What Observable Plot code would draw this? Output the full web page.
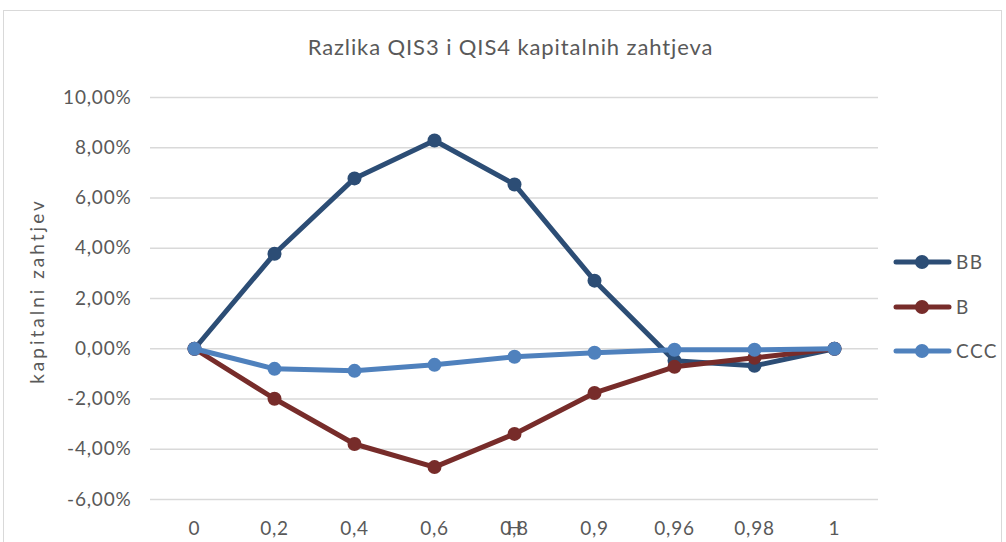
<!DOCTYPE html>
<html>
<head>
<meta charset="utf-8">
<script src="https://cdn.jsdelivr.net/npm/d3@7"></script>
<script src="https://cdn.jsdelivr.net/npm/@observablehq/plot@0.6"></script>
<style>
  html, body { margin: 0; padding: 0; background: #fff; }
  #wrap { position: relative; width: 1006px; height: 542px; overflow: hidden; font-family: Lato, "Open Sans", sans-serif; }
  #border { position: absolute; left: 3px; top: 10px; width: 999px; height: 560px; border: 1px solid #d9d9d9; box-sizing: border-box; }
  #title { position: absolute; left: 0; width: 1021px; top: 34px; line-height: 26px; text-align: center; font-size: 22px; letter-spacing: 0.9px; color: #595959; white-space: nowrap; }
  #ylabel { position: absolute; left: 36px; top: 291px; transform: translate(-50%, -50%) rotate(-90deg); font-size: 19px; letter-spacing: 3px; color: #595959; white-space: nowrap; }
  #chart { position: absolute; left: 0; top: 0; }
  #chart svg text { letter-spacing: 0.8px; }
  #legend { position: absolute; left: 0; top: 0; }
  #legend text { letter-spacing: 1.5px; }
</style>
</head>
<body>
<div id="wrap">
  <div id="border"></div>
  <div id="chart"></div>
  <div id="title">Razlika QIS3 i QIS4 kapitalnih zahtjeva</div>
  <div id="ylabel">kapitalni zahtjev</div>
  <svg id="legend" width="1006" height="542"></svg>
</div>
<script>
const categories = ["0", "0,2", "0,4", "0,6", "0,8", "0,9", "0,96", "0,98", "1"];
const seriesNames = ["BB", "B", "CCC"];
const seriesColors = ["#2c4d75", "#772c2a", "#4f81bd"];
const valuesBB  = [0, 0.0378, 0.0678, 0.0829, 0.0654, 0.0271, -0.0048, -0.0068, 0];
const valuesB   = [0, -0.0199, -0.0379, -0.0471, -0.0339, -0.0176, -0.0072, -0.0036, 0];
const valuesCCC = [0, -0.0080, -0.0088, -0.0064, -0.0032, -0.0016, -0.0004, -0.0004, 0];
const yTicks = [-0.06, -0.04, -0.02, 0, 0.02, 0.04, 0.06, 0.08, 0.10];
const xAxisTitle = "H";

const allValues = [valuesBB, valuesB, valuesCCC];
const data = [];
seriesNames.forEach((s, i) => {
  categories.forEach((c, j) => data.push({series: s, cat: c, value: allValues[i][j]}));
});

const fmt = d => (d * 100).toFixed(2).replace(".", ",") + "%";

const marks = [
  Plot.gridY(yTicks, {stroke: "#d9d9d9", strokeOpacity: 1, strokeWidth: 1.5}),
  Plot.axisY(yTicks, {tickSize: 0, tickPadding: 19, tickFormat: fmt, fontSize: 19, fill: "#595959", label: null}),
  Plot.axisX({tickSize: 0, tickPadding: 22, fontSize: 19, fill: "#595959", label: null}),
  Plot.text([xAxisTitle], {frameAnchor: "bottom", lineAnchor: "top", dy: 22, fontSize: 19, fill: "#595959"})
];
seriesNames.forEach((s, i) => {
  const d = data.filter(r => r.series === s);
  marks.push(Plot.line(d, {x: "cat", y: "value", stroke: seriesColors[i], strokeWidth: 5, strokeLinejoin: "round"}));
  marks.push(Plot.dot(d, {x: "cat", y: "value", fill: seriesColors[i], r: 7, stroke: "none"}));
});

const chart = Plot.plot({
  width: 1006,
  height: 542,
  marginLeft: 150,
  marginRight: 128,
  marginTop: 97,
  marginBottom: 43,
  style: {fontFamily: "Lato, 'Open Sans', sans-serif", background: "transparent"},
  x: {type: "point", domain: categories, padding: 0.5},
  y: {domain: [-0.06, 0.10]},
  marks
});
document.getElementById("chart").appendChild(chart);

// legend
const leg = d3.select("#legend");
const legY = [262, 307, 351];
seriesNames.forEach((s, i) => {
  const g = leg.append("g").attr("transform", `translate(0,${legY[i]})`);
  g.append("line").attr("x1", 896).attr("x2", 949).attr("y1", 0).attr("y2", 0)
    .attr("stroke", seriesColors[i]).attr("stroke-width", 5).attr("stroke-linecap", "round");
  g.append("circle").attr("cx", 922).attr("cy", 0).attr("r", 7).attr("fill", seriesColors[i]);
  g.append("text").attr("x", 956).attr("y", 0).attr("dy", "0.35em")
    .attr("font-size", 19).attr("fill", "#595959").attr("font-family", "Lato, 'Open Sans', sans-serif").text(s);
});
</script>
</body>
</html>
